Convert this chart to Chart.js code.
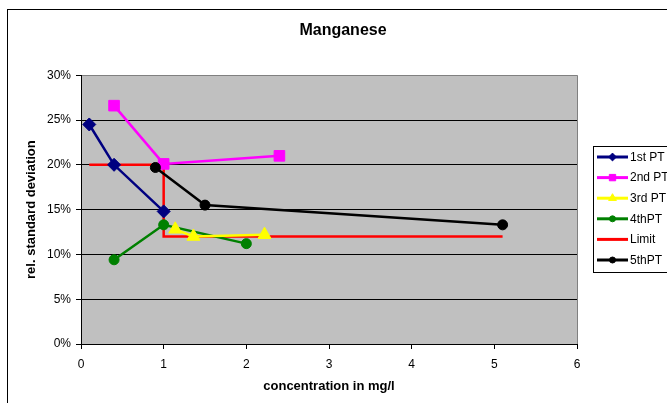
<!DOCTYPE html>
<html>
<head>
<meta charset="utf-8">
<title>Manganese</title>
<script src="https://cdn.jsdelivr.net/npm/chart.js@4.4.1/dist/chart.umd.min.js"></script>
<style>
  html, body { margin: 0; padding: 0; background: #fff; }
  canvas { display: block; }
</style>
</head>
<body>
<canvas id="mnChart" width="667" height="403"></canvas>
<script>
// concentration in mg/l (x) and rel. standard deviation in % (y), one pair per series
const pt1X = [0.1, 0.4, 1.0];
const pt1Y = [24.5, 20.0, 14.8];
const pt2X = [0.4, 1.0, 2.4];
const pt2Y = [26.6, 20.1, 21.0];
const pt3X = [1.14, 1.36, 2.22];
const pt3Y = [12.8, 12.0, 12.2];
const pt4X = [0.4, 1.0, 2.0];
const pt4Y = [9.4, 13.3, 11.2];
const limitX = [0.1, 1.0, 1.0, 5.1];
const limitY = [20, 20, 12, 12];
const pt5X = [0.9, 1.5, 5.1];
const pt5Y = [19.7, 15.5, 13.3];

const xTicks = [0, 1, 2, 3, 4, 5, 6];
const yTicks = [0, 5, 10, 15, 20, 25, 30];

const FONT = "'Liberation Sans', Arial, sans-serif";
Chart.defaults.font.family = FONT;
Chart.defaults.color = '#000';

const toPoints = (xs, ys) => xs.map((x, i) => ({ x: x, y: ys[i] }));

// Excel-like series styling; z = draw order (higher is drawn first, i.e. lower down)
const series = [
  { label: '1st PT', xs: pt1X, ys: pt1Y, color: '#000080', style: 'rectRot', r: 6.5, z: 4 },
  { label: '2nd PT', xs: pt2X, ys: pt2Y, color: '#FF00FF', style: 'rect', r: 7.5, z: 3 },
  { label: '3rd PT', xs: pt3X, ys: pt3Y, color: '#FFFF00', style: 'triangle', r: 7.5, z: 1 },
  { label: '4thPT', xs: pt4X, ys: pt4Y, color: '#008000', style: 'circle', r: 5, z: 2 },
  { label: 'Limit', xs: limitX, ys: limitY, color: '#FF0000', style: false, r: 0, z: 5 },
  { label: '5thPT', xs: pt5X, ys: pt5Y, color: '#000000', style: 'circle', r: 5, z: 0 }
];

const datasets = series.map((s) => ({
  label: s.label,
  data: toPoints(s.xs, s.ys),
  showLine: true,
  borderColor: s.color,
  backgroundColor: s.color,
  borderWidth: 2.5,
  pointStyle: s.style,
  pointRadius: s.r,
  pointBorderWidth: 1,
  pointBorderColor: s.color,
  pointBackgroundColor: s.color,
  order: s.z,
  clip: false
}));

const frame = {
  id: 'frame',
  beforeDraw(chart) {
    const { ctx, chartArea: a } = chart;
    ctx.save();
    ctx.fillStyle = '#fff';
    ctx.fillRect(0, 0, chart.width, chart.height);
    ctx.strokeStyle = '#000';
    ctx.lineWidth = 1;
    ctx.strokeRect(7.5, 9.5, 800, 600);
    ctx.fillStyle = '#C0C0C0';
    ctx.fillRect(a.left, a.top, a.right - a.left, a.bottom - a.top);
    ctx.restore();
  },
  beforeDatasetsDraw(chart) {
    const { ctx, chartArea: a } = chart;
    ctx.save();
    ctx.strokeStyle = '#808080';
    ctx.lineWidth = 1;
    ctx.beginPath();
    ctx.moveTo(Math.round(a.right) + 0.5, a.top);
    ctx.lineTo(Math.round(a.right) + 0.5, a.bottom);
    ctx.stroke();
    ctx.restore();
  }
};

const sideLegend = {
  id: 'sideLegend',
  afterDraw(chart) {
    const ctx = chart.ctx;
    ctx.save();
    ctx.fillStyle = '#fff';
    ctx.strokeStyle = '#000';
    ctx.lineWidth = 1;
    ctx.fillRect(593.5, 146.5, 120, 126);
    ctx.strokeRect(593.5, 146.5, 120, 126);
    ctx.font = '12px ' + FONT;
    ctx.textBaseline = 'middle';
    series.forEach((s, i) => {
      const y = 157 + i * 20.6;
      ctx.strokeStyle = s.color;
      ctx.lineWidth = 3;
      ctx.beginPath();
      ctx.moveTo(597, y);
      ctx.lineTo(628, y);
      ctx.stroke();
      if (s.style) {
        ctx.fillStyle = s.color;
        ctx.strokeStyle = s.color;
        ctx.lineWidth = 1;
        Chart.helpers.drawPoint(ctx, { pointStyle: s.style, radius: s.r * 0.6, borderWidth: 1, rotation: 0 }, 612.5, y);
      }
      ctx.fillStyle = '#000';
      ctx.fillText(s.label, 630, y + 0.5);
    });
    ctx.restore();
  }
};

new Chart(document.getElementById('mnChart'), {
  type: 'scatter',
  data: { datasets: datasets },
  plugins: [frame, sideLegend],
  options: {
    responsive: false,
    animation: false,
    layout: { padding: { left: 19, top: 0, right: 0, bottom: 0 } },
    plugins: {
      legend: { display: false },
      tooltip: { enabled: false },
      title: {
        display: true,
        text: 'Manganese',
        color: '#000',
        font: { size: 16, weight: 'bold' },
        padding: { top: 21, bottom: 35 }
      }
    },
    scales: {
      x: {
        type: 'linear',
        min: 0,
        max: 6,
        afterBuildTicks: (scale) => { scale.ticks = xTicks.map(v => ({ value: v })); },
        afterFit: (scale) => { scale.height = 59; },
        ticks: { padding: 8, font: { size: 12 }, color: '#000' },
        grid: { drawOnChartArea: false, tickLength: 5, color: '#000' },
        border: { color: '#000', width: 1 },
        title: {
          display: true,
          text: 'concentration in mg/l',
          color: '#000',
          font: { size: 13, weight: 'bold' },
          padding: { top: 0, bottom: 9 }
        }
      },
      y: {
        type: 'linear',
        min: 0,
        max: 30,
        afterBuildTicks: (scale) => { scale.ticks = yTicks.map(v => ({ value: v })); },
        afterFit: (scale) => { scale.width = 62; },
        ticks: { padding: 5, font: { size: 12 }, color: '#000', callback: (v) => v + '%' },
        grid: {
          color: (c) => (c.tick && c.tick.value === 30 ? '#808080' : '#000'),
          tickColor: '#000',
          tickLength: 5
        },
        border: { color: '#000', width: 1 },
        title: {
          display: true,
          text: 'rel. standard deviation',
          color: '#000',
          font: { size: 13, weight: 'bold' },
          padding: { top: 5, bottom: 0 }
        }
      },
      y2: {
        type: 'linear',
        position: 'right',
        display: true,
        ticks: { display: false },
        grid: { display: false },
        border: { display: false },
        afterFit: (scale) => { scale.width = 90; }
      }
    }
  }
});
</script>
</body>
</html>
